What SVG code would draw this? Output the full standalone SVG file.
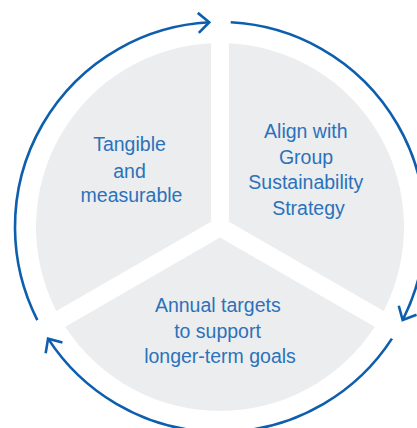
<svg xmlns="http://www.w3.org/2000/svg" width="417" height="428" viewBox="0 0 417 428">
  <style>
    .sector { fill: #ecedef; }
    .label { font-family: "Liberation Sans", Arial, sans-serif; font-size: 19.5px; fill: #2b72ba; text-anchor: middle; }
    .ring { fill: none; stroke: #0d5fae; stroke-width: 2.6; stroke-linecap: butt; }
  </style>
  <defs>
    <marker id="chev" markerUnits="userSpaceOnUse" markerWidth="30" markerHeight="30" viewBox="-15 -15 30 30" refX="0" refY="0" orient="auto">
      <path d="M -11,-10 L 0,0 L -11,10" fill="none" stroke="#0d5fae" stroke-width="2.6" stroke-linejoin="miter"/>
    </marker>
  </defs>
  <rect width="417" height="428" fill="#ffffff"/>

  <g id="node-tangible">
    <path class="sector" d="M 211,221.8 L 211,43.22 A 184 184 0 0 0 56.35,311.1 Z"/>
    <text class="label" x="129.5" y="151">Tangible</text>
    <text class="label" x="129.5" y="177.5">and</text>
    <text class="label" x="131.5" y="202">measurable</text>
  </g>

  <g id="node-align">
    <path class="sector" d="M 229,221.8 L 229,43.22 A 184 184 0 0 1 383.65,311.1 Z"/>
    <text class="label" x="305.8" y="137.7">Align with</text>
    <text class="label" x="306" y="163.5">Group</text>
    <text class="label" x="305.8" y="189.3">Sustainability</text>
    <text class="label" x="308.5" y="215">Strategy</text>
  </g>

  <g id="node-annual">
    <path class="sector" d="M 220,237.4 L 374.65,326.7 A 184 184 0 0 1 65.35,326.7 Z"/>
    <text class="label" x="217.8" y="311.7">Annual targets</text>
    <text class="label" x="217.5" y="337.7">to support</text>
    <text class="label" x="220" y="362.8">longer-term goals</text>
  </g>

  <g id="connectors">
    <path class="ring" d="M 37.34,320.07 A 205 205 0 0 1 209.27,22.28" marker-end="url(#chev)"/>
    <path class="ring" d="M 230.73,22.28 A 205 205 0 0 1 402.66,320.07" marker-end="url(#chev)"/>
    <path class="ring" d="M 391.93,338.65 A 205 205 0 0 1 48.07,338.65" marker-end="url(#chev)"/>
  </g>
</svg>
